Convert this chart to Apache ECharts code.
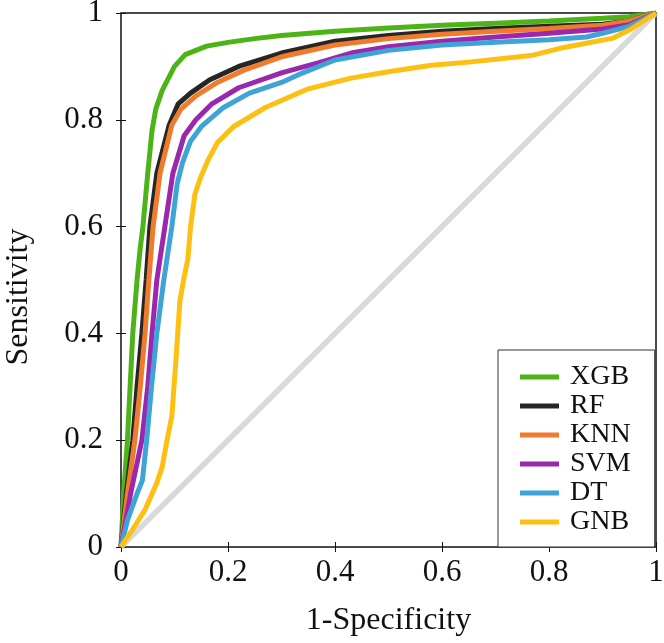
<!DOCTYPE html>
<html>
<head>
<meta charset="utf-8">
<script src="https://cdn.jsdelivr.net/npm/echarts@6/dist/echarts.min.js"></script>
<style>
  html, body { margin: 0; padding: 0; background: #fff; }
  #chart { width: 664px; height: 643px; }
</style>
</head>
<body>
<div id="chart"></div>
<script>
// ROC points: [1-specificity, sensitivity]
var xgb = [[0,0],[0.005,0.1],[0.012,0.2],[0.017,0.3],[0.022,0.4],[0.03,0.5],[0.036,0.56],[0.041,0.6],[0.05,0.7],[0.058,0.78],[0.065,0.82],[0.077,0.855],[0.1,0.9],[0.12,0.922],[0.16,0.938],[0.2,0.945],[0.25,0.952],[0.3,0.958],[0.4,0.966],[0.5,0.972],[0.6,0.977],[0.7,0.981],[0.8,0.985],[0.9,0.99],[0.95,0.993],[1,1]]
var rf = [[0,0],[0.01,0.1],[0.022,0.2],[0.03,0.3],[0.039,0.4],[0.047,0.5],[0.054,0.6],[0.067,0.7],[0.09,0.79],[0.107,0.83],[0.13,0.85],[0.166,0.875],[0.22,0.9],[0.3,0.925],[0.4,0.947],[0.5,0.958],[0.6,0.966],[0.7,0.971],[0.8,0.975],[0.9,0.979],[0.95,0.985],[1,1]]
var knn = [[0,0],[0.012,0.1],[0.026,0.2],[0.036,0.3],[0.045,0.4],[0.052,0.5],[0.06,0.6],[0.073,0.7],[0.095,0.79],[0.112,0.82],[0.14,0.845],[0.18,0.87],[0.23,0.893],[0.3,0.918],[0.4,0.94],[0.5,0.952],[0.6,0.96],[0.7,0.966],[0.8,0.971],[0.9,0.977],[0.95,0.985],[1,1]]
var svm = [[0,0],[0.018,0.1],[0.039,0.2],[0.05,0.3],[0.058,0.4],[0.067,0.5],[0.082,0.6],[0.097,0.7],[0.118,0.77],[0.14,0.8],[0.17,0.83],[0.22,0.86],[0.3,0.888],[0.37,0.907],[0.43,0.925],[0.5,0.937],[0.6,0.947],[0.7,0.955],[0.8,0.962],[0.9,0.97],[0.95,0.978],[1,1]]
var dt = [[0,0],[0.012,0.05],[0.03,0.1],[0.04,0.125],[0.048,0.2],[0.057,0.3],[0.067,0.4],[0.08,0.5],[0.095,0.6],[0.105,0.68],[0.115,0.72],[0.13,0.76],[0.15,0.787],[0.19,0.822],[0.24,0.85],[0.3,0.87],[0.34,0.888],[0.4,0.912],[0.5,0.93],[0.6,0.94],[0.7,0.945],[0.8,0.95],[0.87,0.955],[0.9,0.962],[0.95,0.975],[1,1]]
var gnb = [[0,0],[0.02,0.03],[0.045,0.07],[0.067,0.12],[0.077,0.15],[0.086,0.2],[0.095,0.245],[0.102,0.34],[0.106,0.4],[0.11,0.46],[0.117,0.5],[0.125,0.54],[0.13,0.6],[0.138,0.66],[0.148,0.69],[0.163,0.725],[0.18,0.757],[0.21,0.787],[0.27,0.823],[0.35,0.858],[0.43,0.878],[0.5,0.89],[0.58,0.902],[0.65,0.908],[0.77,0.921],[0.83,0.936],[0.92,0.953],[0.95,0.968],[1,1]]
var chance = [[0,0],[1,1]]

var names = ['XGB', 'RF', 'KNN', 'SVM', 'DT', 'GNB']
var curves = [xgb, rf, knn, svm, dt, gnb]
var colors = ['#4db417', '#262626', '#f07b2c', '#9a27ae', '#3ea4d5', '#fdbf11']

var font = 'Liberation Serif'

function rocLine(name, data, color) {
  return {
    name: name,
    type: 'line',
    data: data,
    showSymbol: false,
    symbol: 'none',
    lineStyle: { color: color, width: 5 },
    itemStyle: { color: color },
    z: 3
  }
}

var series = [{
  name: 'chance',
  type: 'line',
  data: chance,
  showSymbol: false,
  symbol: 'none',
  lineStyle: { color: '#d9d9d9', width: 5.5 },
  z: 2
}]
for (var i = 0; i < names.length; i++) {
  series.push(rocLine(names[i], curves[i], colors[i]))
}

var chart = echarts.init(document.getElementById('chart'))
chart.setOption({
  animation: false,
  grid: {
    left: 121,
    right: 8,
    top: 13,
    bottom: 96,
    outerBoundsMode: 'none',
    containLabel: false,
    show: true,
    borderColor: '#111',
    borderWidth: 1.5
  },
  legend: {
    data: names,
    orient: 'vertical',
    left: 498,
    top: 350,
    padding: [13, 24, 11, 22],
    itemGap: 1,
    itemWidth: 39,
    itemHeight: 5,
    icon: 'rect',
    borderColor: '#333',
    borderWidth: 1,
    backgroundColor: '#fff',
    textStyle: { fontFamily: font, fontSize: 28, color: '#111', padding: [0, 0, 0, 6] }
  },
  xAxis: [{
    type: 'value',
    min: 0,
    max: 1,
    interval: 0.2,
    name: '1-Specificity',
    nameLocation: 'middle',
    nameGap: 58,
    nameTextStyle: { fontFamily: font, fontSize: 32, color: '#111' },
    axisLine: { show: false },
    axisTick: { show: true, inside: true, length: 5, lineStyle: { color: '#111' } },
    axisLabel: { fontFamily: font, fontSize: 31, color: '#111', margin: 10 },
    splitLine: { show: false }
  }, {
    type: 'value',
    position: 'top',
    min: 0,
    max: 1,
    interval: 0.2,
    axisLine: { show: false },
    axisTick: { show: true, inside: true, length: 5, lineStyle: { color: '#111' } },
    axisLabel: { show: false },
    splitLine: { show: false }
  }],
  yAxis: [{
    type: 'value',
    min: 0,
    max: 1,
    interval: 0.2,
    name: 'Sensitivity',
    nameLocation: 'middle',
    nameGap: 86,
    nameTextStyle: { fontFamily: font, fontSize: 32, color: '#111', padding: [0, 34, 0, 0] },
    axisLine: { show: false },
    axisTick: { show: true, inside: true, length: 5, lineStyle: { color: '#111' } },
    axisLabel: { fontFamily: font, fontSize: 31, color: '#111', margin: 18 },
    splitLine: { show: false }
  }, {
    type: 'value',
    position: 'right',
    min: 0,
    max: 1,
    interval: 0.2,
    axisLine: { show: false },
    axisTick: { show: true, inside: true, length: 5, lineStyle: { color: '#111' } },
    axisLabel: { show: false },
    splitLine: { show: false }
  }],
  series: series
})
</script>
</body>
</html>
